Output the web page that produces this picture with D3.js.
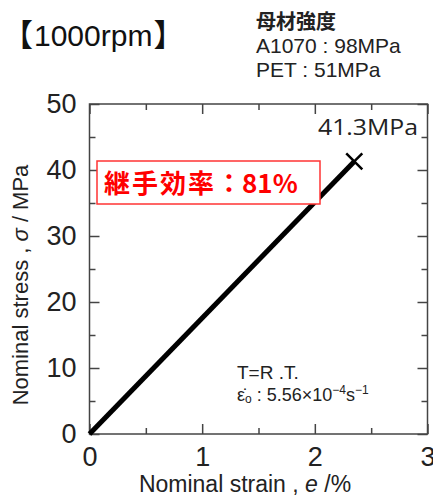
<!DOCTYPE html>
<html><head><meta charset="utf-8">
<script src="https://cdn.jsdelivr.net/npm/d3@7"></script>
<style>body{margin:0;background:#fff}svg{display:block}</style>
</head><body><svg id="c" width="433" height="500"></svg>
<script>
const strain = [0, 2.35];
const stress = [0, 41.3];
const xMajor = [0, 1, 2, 3];
const xMinor = [0.5, 1.5, 2.5];
const yMajor = [0, 10, 20, 30, 40, 50];
const yMinor = [5, 15, 25, 35, 45];
const titleParts = ["【", "1000rpm", "】"];
const baseTitle = "母材強度";
const baseLines = ["A1070 : 98MPa", "PET : 51MPa"];
const peakLabel = "41.3MPa";
const effName = "継手効率";
const effValue = "：81%";

const svg = d3.select("#c");
const L = 89.5, R = 427.5, T = 104, B = 434;
const x = d3.scaleLinear().domain([0, 3]).range([L, R]);
const y = d3.scaleLinear().domain([0, 50]).range([B, T]);
const axisCol = "#444";
const sans = "Liberation Sans, Arial, sans-serif";
const cjk = "Noto Sans CJK JP, sans-serif";

function styleAxis(g){
  g.select(".domain").remove();
  g.selectAll(".tick line").attr("stroke", axisCol).attr("stroke-width", 1.5);
  g.selectAll(".tick text").attr("font-family", sans).attr("font-size", 27).attr("fill", "#222");
}
// bottom
svg.append("g").attr("transform", `translate(0,${B})`)
  .call(d3.axisBottom(x).tickValues(xMajor).tickSizeInner(-10).tickSizeOuter(0).tickPadding(13).tickFormat(d3.format("d")))
  .call(styleAxis);
svg.append("g").attr("transform", `translate(0,${B})`)
  .call(d3.axisBottom(x).tickValues(xMinor).tickSizeInner(-6).tickSizeOuter(0).tickFormat(""))
  .call(styleAxis);
// top
svg.append("g").attr("transform", `translate(0,${T})`)
  .call(d3.axisTop(x).tickValues(xMajor).tickSizeInner(-10).tickSizeOuter(0).tickFormat(""))
  .call(styleAxis);
svg.append("g").attr("transform", `translate(0,${T})`)
  .call(d3.axisTop(x).tickValues(xMinor).tickSizeInner(-6).tickSizeOuter(0).tickFormat(""))
  .call(styleAxis);
// left
svg.append("g").attr("transform", `translate(${L},0)`)
  .call(d3.axisLeft(y).tickValues(yMajor).tickSizeInner(-10).tickSizeOuter(0).tickPadding(13).tickFormat(d3.format("d")))
  .call(styleAxis);
svg.append("g").attr("transform", `translate(${L},0)`)
  .call(d3.axisLeft(y).tickValues(yMinor).tickSizeInner(-6).tickSizeOuter(0).tickFormat(""))
  .call(styleAxis);
// right
svg.append("g").attr("transform", `translate(${R},0)`)
  .call(d3.axisRight(y).tickValues(yMajor).tickSizeInner(-10).tickSizeOuter(0).tickFormat(""))
  .call(styleAxis);
svg.append("g").attr("transform", `translate(${R},0)`)
  .call(d3.axisRight(y).tickValues(yMinor).tickSizeInner(-6).tickSizeOuter(0).tickFormat(""))
  .call(styleAxis);
// frame
svg.append("rect").attr("x", L).attr("y", T).attr("width", R - L).attr("height", B - T)
  .attr("fill", "none").attr("stroke", axisCol).attr("stroke-width", 1.5);

// data line
const pts = strain.map((s, i) => [s, stress[i]]);
svg.append("path").datum(pts)
  .attr("d", d3.line().x(d => x(d[0])).y(d => y(d[1])))
  .attr("stroke", "#000").attr("stroke-width", 5).attr("fill", "none");
// X marker at fracture
const last = pts[pts.length - 1];
svg.append("path").attr("d", d3.symbol(d3.symbolX, 170)())
  .attr("transform", `translate(${x(last[0])},${y(last[1])})`)
  .attr("fill", "none").attr("stroke", "#000").attr("stroke-width", 2.5);

// peak label
svg.append("text").attr("x", 318).attr("y", 135)
  .attr("font-family", "Open Sans, sans-serif").attr("font-size", 22)
  .attr("textLength", 100).attr("lengthAdjust", "spacingAndGlyphs")
  .attr("fill", "#222").text(peakLabel);

// efficiency box
svg.append("rect").attr("x", 97).attr("y", 161).attr("width", 223).attr("height", 43)
  .attr("fill", "#fff").attr("stroke", "#f33").attr("stroke-width", 1.5);
const eff = svg.append("text").attr("x", 104).attr("y", 193)
  .attr("font-family", cjk).attr("font-weight", "bold").attr("font-size", 26)
  .attr("fill", "#f00");
eff.append("tspan").attr("letter-spacing", 2).text(effName);
eff.append("tspan").text(effValue);

// conditions
svg.append("text").attr("x", 237).attr("y", 379).attr("font-family", sans).attr("font-size", 19)
  .attr("fill", "#222").text("T=R .T.");
const cond = svg.append("text").attr("x", 237).attr("y", 401).attr("font-family", sans).attr("font-size", 18).attr("fill", "#222");
cond.append("tspan").text("ε\u0307");
cond.append("tspan").attr("font-size", 12).attr("dy", 2).text("o");
cond.append("tspan").attr("dy", -2).text(" : 5.56×10");
cond.append("tspan").attr("font-size", 12).attr("dy", -7).text("−4");
cond.append("tspan").attr("dy", 7).text("s");
cond.append("tspan").attr("font-size", 12).attr("dy", -7).text("−1");

// axis titles
const xt = svg.append("text").attr("x", 245).attr("y", 492).attr("text-anchor", "middle")
  .attr("font-family", sans).attr("font-size", 23).attr("fill", "#222");
xt.append("tspan").text("Nominal strain , ");
xt.append("tspan").attr("font-style", "italic").text("e");
xt.append("tspan").text(" /%");
const yt = svg.append("text").attr("transform", "translate(28,285) rotate(-90)").attr("text-anchor", "middle")
  .attr("font-family", sans).attr("font-size", 22).attr("fill", "#222");
yt.append("tspan").text("Nominal stress , ");
yt.append("tspan").attr("font-style", "italic").text("σ");
yt.append("tspan").text(" / MPa");

// title and base strengths
const tt = svg.append("text").attr("x", 2).attr("y", 46).attr("fill", "#111");
tt.append("tspan").attr("font-family", cjk).attr("font-size", 31).text(titleParts[0]);
tt.append("tspan").attr("font-family", sans).attr("font-size", 30).attr("dx", 1).text(titleParts[1]);
tt.append("tspan").attr("font-family", cjk).attr("font-size", 31).attr("dx", 1).text(titleParts[2]);
svg.append("text").attr("x", 256).attr("y", 29).attr("font-family", cjk)
  .attr("font-weight", "bold").attr("font-size", 20).attr("fill", "#222").text(baseTitle);
baseLines.forEach((t, i) => {
  svg.append("text").attr("x", 256).attr("y", 53 + i * 24).attr("font-family", sans)
    .attr("font-size", 21).attr("fill", "#222").text(t);
});
</script></body></html>
